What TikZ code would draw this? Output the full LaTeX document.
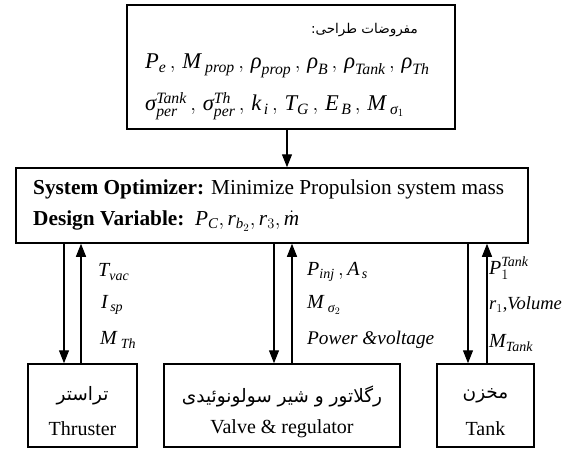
\documentclass[tikz,border=0pt]{standalone}
\usepackage{amsmath}
\usepackage{fontspec}
\setmainfont{Liberation Serif}
\newfontfamily\fa[Script=Arabic]{DejaVu Sans}
\TeXXeTstate=1
\usetikzlibrary{arrows.meta,calc}
\newcommand\vi[1]{\textit{#1}}
\newcommand\fatext[1]{{\fa\beginR #1\endR}}
\newcommand\sep{\,,\,}

\begin{document}
\begin{tikzpicture}[x=1pt,y=-1pt,
  block/.style={draw,line width=1.5pt,inner sep=0pt},
  arr/.style={line width=1.3pt,-{Triangle[length=13pt,width=10pt]}},
  lbl/.style={anchor=west,inner sep=0pt,font=\fontsize{20}{24}\selectfont},
  fat/.style={inner sep=0pt,font=\fontsize{18.5}{22}\selectfont},
  fahead/.style={anchor=east,inner sep=0pt,font=\fontsize{13.5}{16}\selectfont},
  ent/.style={inner sep=0pt,font=\fontsize{20}{24}\selectfont},
  opttext/.style={anchor=west,inner sep=0pt,font=\fontsize{21.3}{25}\selectfont},
  assm/.style={anchor=west,inner sep=0pt,font=\fontsize{22.5}{27}\selectfont}]
\useasboundingbox (0,0) rectangle (566,450);

% blocks
\node[block,minimum width=328pt,minimum height=124pt] (top) at (291,67) {};
\node[block,minimum width=512pt,minimum height=75pt] (opt) at (272,205.5) {};
\node[block,minimum width=109pt,minimum height=83pt] (thr) at (82.5,405.5) {};
\node[block,minimum width=236pt,minimum height=83pt] (val) at (282,405.5) {};
\node[block,minimum width=97pt,minimum height=83pt] (tank) at (485.5,405.5) {};

% design assumptions
\node[fahead] (fa1) at (418,30) {\fatext{مفروضات طراحی:}};
\node[assm] (as1) at (145,66)
  {$\vi{P}_{\vi{e}}\sep\vi{M}_{\;\vi{prop}}\sep\vi{ρ}_{\vi{prop}}\sep\vi{ρ}_{\vi{B}}\sep\vi{ρ}_{\vi{Tank}}\sep\vi{ρ}_{\vi{Th}}$};
\node[assm] (as2) at (145,106)
  {$\vi{σ}^{\vi{Tank}}_{\vi{per}}\sep\vi{σ}^{\vi{Th}}_{\vi{per}}\sep\vi{k}_{\,\vi{i}}\sep\vi{T}_{\vi{G}}\sep\vi{E}_{\,\vi{B}}\sep\vi{M}_{\;\vi{σ}_1}$};

% optimizer text
\node[opttext] (o1) at (33,189) {\textbf{System Optimizer:} Minimize Propulsion system mass};
\node[opttext] (o2) at (33,221) {\textbf{Design Variable:}\ \ $\vi{P}_{\vi{C}},\vi{r}_{\vi{b}_2},\vi{r}_3,\dot{\vi{m}}$};

% subsystem texts
\node[fat] (t1) at (82.5,396) {\fatext{تراستر}};
\node[ent] (t2) at (82.5,429) {Thruster};
\node[fat] (v1) at (282,396) {\fatext{رگلاتور و شیر سولونوئیدی}};
\node[ent] (v2) at (282,429) {Valve \& regulator};
\node[fat] (k1) at (485.5,396) {\fatext{مخزن}};
\node[ent] (k2) at (485.5,429) {Tank};

% connectors
\draw[arr] (top.south -| 287,0) -- (opt.north -| 287,0);
\draw[arr] (opt.south -| 64,0) -- (thr.north -| 64,0);
\draw[arr] (thr.north -| 81,0) -- (opt.south -| 81,0);
\draw[arr] (opt.south -| 274,0) -- (val.north -| 274,0);
\draw[arr] (val.north -| 292,0) -- (opt.south -| 292,0);
\draw[arr] (opt.south -| 468,0) -- (tank.north -| 468,0);
\draw[arr] (tank.north -| 487,0) -- (opt.south -| 487,0);

% exchanged quantities
\node[lbl] (l1) at (98,272) {$\vi{T}_{\vi{vac}}$};
\node[lbl] (l2) at (101,305) {$\vi{I}_{\,\vi{sp}}$};
\node[lbl] (l3) at (100,340) {$\vi{M}_{\;\vi{Th}}$};
\node[lbl] (l4) at (307,272) {$\vi{P}_{\vi{inj}}\,,\vi{A}_{\,\vi{s}}$};
\node[lbl] (l5) at (307,305) {$\vi{M}_{\;\vi{σ}_2}$};
\node[lbl,font=\fontsize{19.3}{22}\selectfont] (l6) at (307,340) {\vi{Power \&voltage}};
\node[lbl] (l7) at (489,268) {$\vi{P}^{\vi{Tank}}_{1}$};
\node[lbl,font=\fontsize{18.5}{22}\selectfont] (l8) at (489,305) {$\vi{r}_1$,\vi{Volume}};
\node[lbl] (l9) at (489,343) {$\vi{M}_{\vi{Tank}}$};
\end{tikzpicture}
\end{document}
